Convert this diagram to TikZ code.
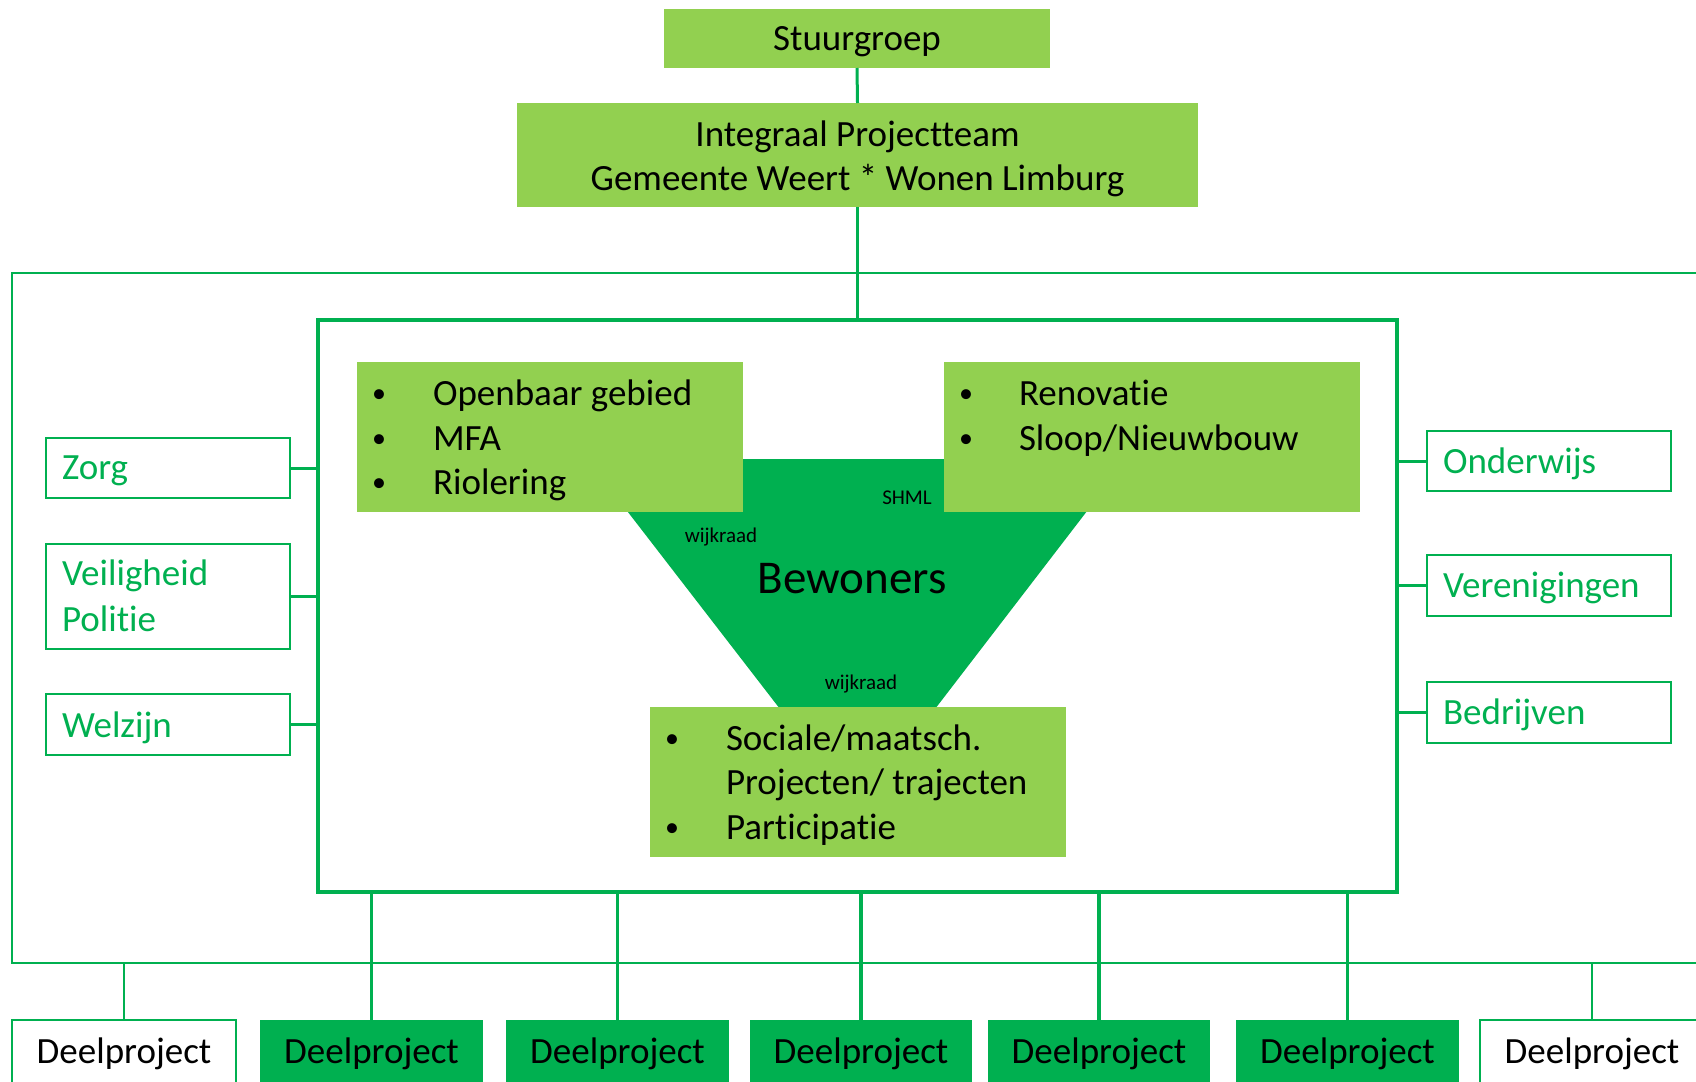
\documentclass[tikz,border=0pt]{standalone}
\usepackage{fontspec}
\setmainfont{Carlito}[Ligatures=NoCommon]
\definecolor{lgreen}{HTML}{92D050}
\definecolor{dgreen}{HTML}{00B050}
\newcommand\fmain{\fontsize{37}{45}\selectfont}
\newcommand\fbig{\fontsize{47}{56}\selectfont}
\newcommand\fsmall{\fontsize{21}{25}\selectfont}
\newcommand\fbul{\fontsize{28}{34}\selectfont}
\begin{document}
\begin{tikzpicture}[x=1pt,y=-1pt,
  lbox/.style={rectangle, fill=lgreen, draw=none, inner sep=0pt, outer sep=0pt},
  gbox/.style={rectangle, fill=dgreen, draw=none, inner sep=0pt, outer sep=0pt, minimum height=80pt},
  sbox/.style={rectangle, draw=dgreen, line width=1.3pt, fill=white, inner sep=0pt, outer sep=0pt, minimum width=244pt},
  wbox/.style={rectangle, draw=dgreen, line width=1.3pt, fill=white, inner sep=0pt, outer sep=0pt, minimum height=80pt},
  txt/.style={inner sep=0pt, outer sep=0pt, font=\fmain, anchor=base west},
  ctxt/.style={inner sep=0pt, outer sep=0pt, font=\fmain, anchor=base},
  bul/.style={inner sep=0pt, outer sep=0pt, font=\fbul, anchor=base},
  gtxt/.style={txt, text=dgreen},
  stxt/.style={inner sep=0pt, outer sep=0pt, font=\fsmall, anchor=base},
  conn/.style={draw=dgreen, line width=3pt},
  bconn/.style={draw=dgreen, line width=3.5pt},
  tconn/.style={draw=dgreen, line width=1.3pt}
]
\useasboundingbox (0,0) rectangle (1696,1081);
\clip (0,0) rectangle (1696,1081);
\fill[white] (0,0) rectangle (1696,1081);

% frames
\node[rectangle, draw=dgreen, line width=2pt, minimum width=1708pt, minimum height=690pt, inner sep=0pt, outer sep=0pt] (outer) at (866,618) {};
\node[rectangle, draw=dgreen, line width=4pt, minimum width=1079pt, minimum height=572pt, inner sep=0pt, outer sep=0pt] (inner) at (857.5,606) {};

% top boxes
\node[lbox, minimum width=386pt, minimum height=59pt] (stuur) at (857,38.5) {};
\node[lbox, minimum width=681pt, minimum height=104pt] (team) at (857.5,155) {};
\draw[conn] (stuur.south) -- (team.north);
\draw[conn] (team.south) -- (inner.north);

% side boxes
\node[sbox, minimum height=60pt] (zorg) at (168,468) {};
\node[sbox, minimum height=105pt] (veilig) at (168,596.5) {};
\node[sbox, minimum height=61pt] (welzijn) at (168,724.5) {};
\node[sbox, minimum height=60pt] (onderwijs) at (1549,461) {};
\node[sbox, minimum height=61pt] (vereniging) at (1549,585.5) {};
\node[sbox, minimum height=61pt] (bedrijven) at (1549,712.5) {};
\foreach \b in {zorg,veilig,welzijn}{\draw[conn] (\b.east) -- (\b.east -| inner.west);}
\foreach \b in {onderwijs,vereniging,bedrijven}{\draw[conn] (\b.west) -- (\b.west -| inner.east);}

% funnel
\coordinate (f1) at (587,459);
\coordinate (f2) at (1127,459);
\coordinate (f3) at (935,709);
\coordinate (f4) at (780,709);
\fill[dgreen] (f1) -- (f2) -- (f3) -- (f4) -- cycle;

% inner boxes
\node[lbox, minimum width=386pt, minimum height=150pt] (openbaar) at (550,437) {};
\node[lbox, minimum width=416pt, minimum height=150pt] (renovatie) at (1152,437) {};
\node[lbox, minimum width=416pt, minimum height=150pt] (sociale) at (858,782) {};

% bottom boxes
\node[wbox, minimum width=224pt] (dp1) at (124,1060) {};
\node[gbox, minimum width=223pt] (dp2) at (371.5,1060) {};
\node[gbox, minimum width=223pt] (dp3) at (617.5,1060) {};
\node[gbox, minimum width=222pt] (dp4) at (861,1060) {};
\node[gbox, minimum width=222pt] (dp5) at (1099,1060) {};
\node[gbox, minimum width=223pt] (dp6) at (1347.5,1060) {};
\node[wbox, minimum width=224pt] (dp7) at (1592,1060) {};
\foreach \b in {dp2,dp3,dp4,dp5,dp6}{\draw[bconn] (\b.north |- inner.south) -- (\b.north);}
\foreach \b in {dp1,dp7}{\draw[tconn] (\b.north |- outer.south) -- (\b.north);}

% texts
\node[ctxt] (tstuur) at (857,51) {Stuurgroep};
\node[ctxt] (tteam1) at (857.5,146) {Integraal Projectteam};
\node[ctxt] (tteam2) at (857.5,190) {Gemeente Weert * Wonen Limburg};

\node[bul] (b1) at (379,402) {•};
\node[txt] (o1) at (433,405) {Openbaar gebied};
\node[bul] (b2) at (379,447) {•};
\node[txt] (o2) at (433,450) {MFA};
\node[bul] (b3) at (379,491) {•};
\node[txt] (o3) at (433,494) {Riolering};

\node[bul] (b4) at (966,402) {•};
\node[txt] (r1) at (1019,405) {Renovatie};
\node[bul] (b5) at (966,447) {•};
\node[txt] (r2) at (1019,450) {Sloop/Nieuwbouw};

\node[bul] (b6) at (672,747) {•};
\node[txt] (s1) at (726,750) {Sociale/maatsch.};
\node[txt] (s2) at (726,794) {Projecten/ trajecten};
\node[bul] (b7) at (672,836) {•};
\node[txt] (s3) at (726,839) {Participatie};

\node[stxt] (shml) at (907,504) {SHML};
\node[stxt] (wk1) at (721,542) {wijkraad};
\node[inner sep=0pt, outer sep=0pt, font=\fbig, anchor=base] (bew) at (852,593) {Bewoners};
\node[stxt] (wk2) at (861,689) {wijkraad};

\node[gtxt] (tz) at (62,479) {Zorg};
\node[gtxt] (tv1) at (62,585) {Veiligheid};
\node[gtxt] (tv2) at (62,631) {Politie};
\node[gtxt] (tw) at (62,737) {Welzijn};
\node[gtxt] (to) at (1443,473) {Onderwijs};
\node[gtxt] (tve) at (1443,597) {Verenigingen};
\node[gtxt] (tb) at (1443,724) {Bedrijven};

\foreach \b in {dp1,dp2,dp3,dp4,dp5,dp6,dp7}{\node[ctxt] at (\b.center |- 0,1063) {Deelproject};}
\end{tikzpicture}
\end{document}
